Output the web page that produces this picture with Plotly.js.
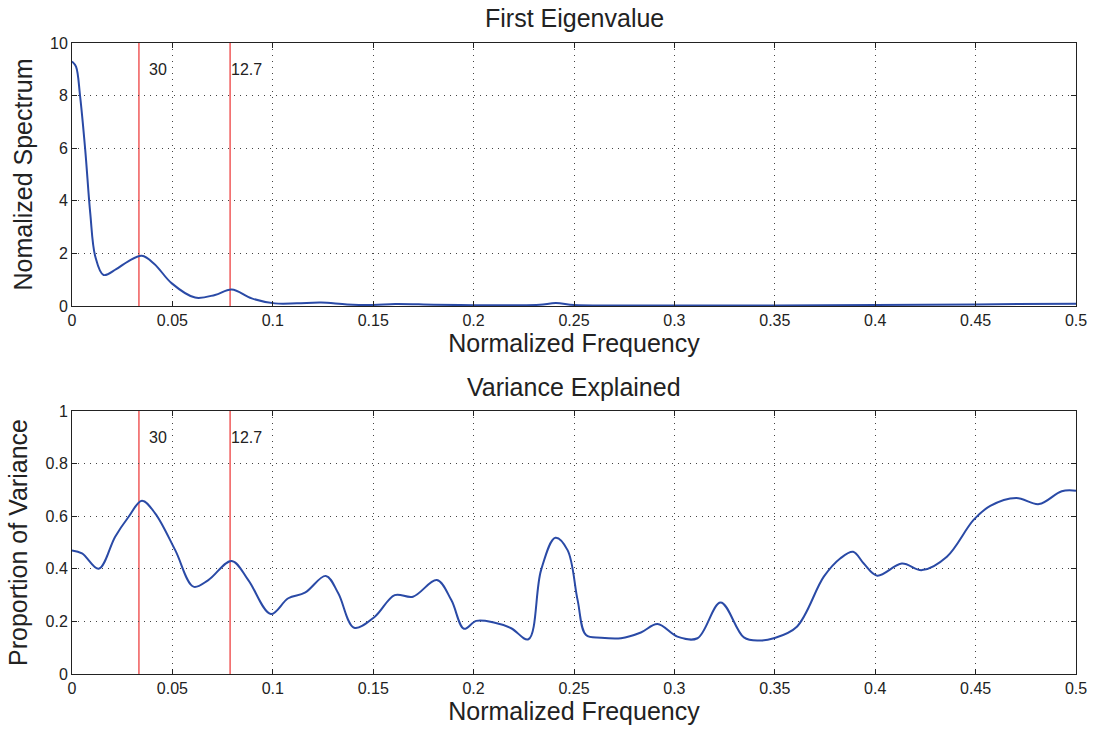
<!DOCTYPE html>
<html>
<head>
<meta charset="utf-8">
<script src="https://cdn.plot.ly/plotly-3.0.1.min.js"></script>
<style>html,body{margin:0;padding:0;background:#fff;}#chart{width:1095px;height:730px;}</style>
</head>
<body>
<div id="chart"></div>
<script>
// Top panel: First Eigenvalue spectrum
const freqTop = [0, 0.002, 0.004, 0.0066, 0.0091, 0.0116, 0.0157, 0.022, 0.028, 0.0348, 0.041, 0.0497, 0.0613, 0.0712, 0.0795, 0.0895, 0.101, 0.112, 0.124, 0.137, 0.15, 0.161, 0.18, 0.2, 0.22, 0.233, 0.241, 0.25, 0.27, 0.3, 0.35, 0.4, 0.45, 0.5];
const spectrum = [9.3, 9.1, 8.0, 5.93, 3.52, 1.88, 1.18, 1.4, 1.7, 1.91, 1.6, 0.86, 0.32, 0.42, 0.63, 0.29, 0.10, 0.1, 0.13, 0.06, 0.04, 0.08, 0.05, 0.03, 0.03, 0.05, 0.11, 0.04, 0.02, 0.02, 0.02, 0.04, 0.06, 0.09];

// Bottom panel: Variance Explained
const freqBot = [0, 0.005, 0.0133, 0.0215, 0.0282, 0.0348, 0.0414, 0.0514, 0.0605, 0.0679, 0.0795, 0.0878, 0.099, 0.1077, 0.116, 0.1264, 0.1326, 0.1405, 0.1508, 0.1607, 0.1698, 0.1817, 0.1889, 0.1952, 0.2013, 0.2096, 0.2187, 0.2273, 0.2336, 0.2407, 0.2468, 0.2518, 0.256, 0.2634, 0.2734, 0.2833, 0.2916, 0.3015, 0.3115, 0.323, 0.3346, 0.342, 0.3495, 0.361, 0.3744, 0.3827, 0.389, 0.3943, 0.401, 0.4133, 0.4233, 0.4357, 0.449, 0.4573, 0.4702, 0.4816, 0.4929, 0.5];
const variance = [0.47, 0.459, 0.40, 0.522, 0.598, 0.659, 0.611, 0.471, 0.332, 0.357, 0.43, 0.357, 0.228, 0.288, 0.309, 0.373, 0.307, 0.176, 0.218, 0.30, 0.294, 0.357, 0.281, 0.172, 0.202, 0.197, 0.174, 0.132, 0.395, 0.518, 0.471, 0.281, 0.148, 0.138, 0.136, 0.158, 0.19, 0.142, 0.136, 0.272, 0.139, 0.127, 0.136, 0.18, 0.37, 0.44, 0.465, 0.42, 0.374, 0.42, 0.395, 0.446, 0.586, 0.639, 0.669, 0.646, 0.695, 0.697];

// Marked periods (vertical lines at 1/period)
const periods = [30, 12.7];
const periodLabels = ["30", "12.7"];

const xTicks = [0, 0.05, 0.1, 0.15, 0.2, 0.25, 0.3, 0.35, 0.4, 0.45, 0.5];
const xTickText = ["0", "0.05", "0.1", "0.15", "0.2", "0.25", "0.3", "0.35", "0.4", "0.45", "0.5"];
const yTopTicks = [0, 2, 4, 6, 8, 10];
const yBotTicks = [0, 0.2, 0.4, 0.6, 0.8, 1];
const yBotText = ["0", "0.2", "0.4", "0.6", "0.8", "1"];

const blue = '#2a4aa6';
const red = '#f05a5a';
const FONT = 'Liberation Sans, Arial, sans-serif';
const TXT = '#222';

const traces = [
  {x: freqTop, y: spectrum, xaxis: 'x', yaxis: 'y', mode: 'lines', line: {color: blue, width: 2, shape: 'spline', smoothing: 1}},
  {x: freqBot, y: variance, xaxis: 'x2', yaxis: 'y2', mode: 'lines', line: {color: blue, width: 2, shape: 'spline', smoothing: 1}}
];

const shapes = [];
const annotations = [];
periods.forEach((p, i) => {
  const f = 1 / p;
  [['x', 'y'], ['x2', 'y2']].forEach(([xa, ya]) => {
    shapes.push({type: 'line', xref: xa, yref: ya + ' domain', x0: f, x1: f, y0: 0, y1: 1, line: {color: red, width: 1.5}, layer: 'below'});
    annotations.push({xref: xa, yref: ya + ' domain', x: f, y: 0.9, text: periodLabels[i], showarrow: false, xanchor: 'left', yanchor: 'middle', xshift: i === 0 ? 8 : -1, font: {family: FONT, size: 16, color: TXT}});
  });
});
annotations.push({xref: 'paper', yref: 'paper', x: 0.5, y: 1, yshift: 25, text: 'First Eigenvalue', showarrow: false, xanchor: 'center', yanchor: 'middle', font: {family: FONT, size: 25, color: TXT}});
annotations.push({xref: 'paper', yref: 'paper', x: 0.5, y: 0.4168, yshift: 24, text: 'Variance Explained', showarrow: false, xanchor: 'center', yanchor: 'middle', font: {family: FONT, size: 25, color: TXT}});

const axCommon = {
  showline: true, linecolor: '#222', linewidth: 1, mirror: 'ticks',
  ticks: 'inside', ticklen: 5, tickcolor: '#222',
  showgrid: true, gridcolor: '#444', gridwidth: 1, griddash: '1px,5px',
  zeroline: false, tickfont: {family: FONT, size: 16, color: TXT},
  fixedrange: true
};
const titleFont = {family: FONT, size: 25, color: TXT};

const layout = {
  width: 1095, height: 730,
  margin: {l: 72, r: 19, t: 43, b: 56},
  paper_bgcolor: '#fff', plot_bgcolor: '#fff',
  showlegend: false,
  font: {family: FONT, color: TXT},
  xaxis: Object.assign({}, axCommon, {domain: [0, 1], anchor: 'y', range: [0, 0.5], tickvals: xTicks, ticktext: xTickText,
    title: {text: 'Normalized Frequency', font: titleFont, standoff: 6}}),
  yaxis: Object.assign({}, axCommon, {domain: [0.5832, 1], anchor: 'x', range: [0, 10], tickvals: yTopTicks,
    title: {text: 'Nomalized Spectrum', font: titleFont, standoff: 10}}),
  xaxis2: Object.assign({}, axCommon, {domain: [0, 1], anchor: 'y2', range: [0, 0.5], tickvals: xTicks, ticktext: xTickText,
    title: {text: 'Normalized Frequency', font: titleFont, standoff: 6}}),
  yaxis2: Object.assign({}, axCommon, {domain: [0, 0.4168], anchor: 'x2', range: [0, 1], tickvals: yBotTicks, ticktext: yBotText,
    title: {text: 'Proportion of Variance', font: titleFont, standoff: 10}}),
  shapes: shapes,
  annotations: annotations
};

Plotly.newPlot('chart', traces, layout, {displayModeBar: false, staticPlot: true});
</script>
</body>
</html>
